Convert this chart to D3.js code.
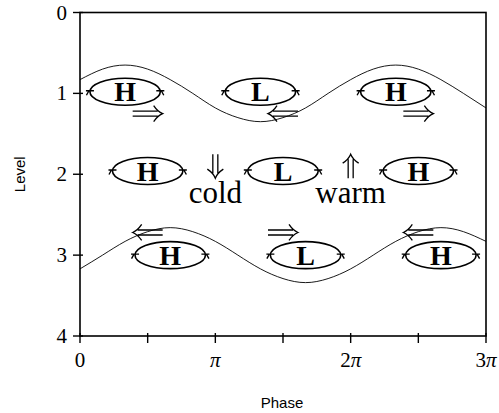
<!DOCTYPE html>
<html>
<head>
<meta charset="utf-8">
<script src="https://cdn.jsdelivr.net/npm/d3@7"></script>
<style>
  body { margin: 0; background: #fff; }
  svg { display: block; }
</style>
</head>
<body>
<div id="chart-area"></div>
<script>
const PI = Math.PI;

// phase positions (in units of pi) where the curves were read
const curve_phase = [0, 1/6, 2/6, 3/6, 4/6, 5/6, 1, 7/6, 8/6, 9/6, 10/6, 11/6, 2,
                     13/6, 14/6, 15/6, 16/6, 17/6, 3];
// upper and lower wavy lines (level values)
const upper_curve = [0.83, 0.70, 0.65, 0.70, 0.83, 1.00, 1.18, 1.30, 1.35, 1.30, 1.18, 1.00, 0.83,
                     0.70, 0.65, 0.70, 0.83, 1.00, 1.18];
const lower_curve = [3.17, 3.00, 2.83, 2.71, 2.66, 2.71, 2.83, 3.00, 3.17, 3.29, 3.34, 3.29, 3.17,
                     3.00, 2.83, 2.71, 2.66, 2.71, 2.83];

// pressure centres: phase (units of pi), level, label
const centre_phase = [1/3, 4/3, 7/3, 1/2, 3/2, 5/2, 2/3, 5/3, 8/3];
const centre_level = [0.98, 0.98, 0.98, 1.96, 1.96, 1.96, 3.0, 3.0, 3.0];
const centre_label = ["H", "L", "H", "H", "L", "H", "H", "L", "H"];

// horizontal double arrows: phase (units of pi), level, direction (+1 right, -1 left)
const wind_phase = [0.5, 1.5, 2.5, 0.5, 1.5, 2.5];
const wind_level = [1.25, 1.25, 1.25, 2.72, 2.72, 2.72];
const wind_dir = [1, -1, 1, -1, 1, -1];

// vertical double arrows + words
const vert_phase = [1, 2];
const vert_dir = [1, -1];   // +1 down, -1 up
const vert_word = ["cold", "warm"];

const x_ticks = [0, 0.5, 1, 1.5, 2, 2.5, 3];
const x_tick_labels = {0: "0", 1: "π", 2: "2π", 3: "3π"};
const y_ticks = [0, 1, 2, 3, 4];

const W = 499, H = 413;
const m_left = 80, m_right = 486, m_top = 12.5, m_bottom = 336;

const svg = d3.select("#chart-area").append("svg")
    .attr("width", W).attr("height", H);

const x = d3.scaleLinear().domain([0, 3 * PI]).range([m_left, m_right]);
const y = d3.scaleLinear().domain([0, 4]).range([m_top, m_bottom]);

const serif = "'Liberation Serif', 'DejaVu Serif', serif";
const sans = "'Liberation Sans', Arial, sans-serif";

// curves
const line = d3.line()
    .x(d => x(d[0] * PI))
    .y(d => y(d[1]))
    .curve(d3.curveNatural);

for (let c of [upper_curve, lower_curve]) {
    svg.append("path")
        .attr("d", line(curve_phase.map((p, i) => [p, c[i]])))
        .attr("fill", "none")
        .attr("stroke", "#000")
        .attr("stroke-width", 0.9);
}

// pressure centres
const rx = x(0.26 * PI) - x(0);
const ry = y(0.167) - y(0);
centre_phase.forEach((p, i) => {
    const cx = x(p * PI), cy = y(centre_level[i]);
    const g = svg.append("g");
    g.append("ellipse")
        .attr("cx", cx).attr("cy", cy)
        .attr("rx", rx).attr("ry", ry)
        .attr("fill", "none").attr("stroke", "#000").attr("stroke-width", 1.6);
    // little arrow heads at the two ends
    for (let s of [-1, 1]) {
        const ex = cx + s * rx;
        g.append("path")
            .attr("d", `M ${ex - 4} ${cy - 1} L ${ex + 4} ${cy - 1} M ${ex + s * 1} ${cy - 1} L ${ex + s * 3.5} ${cy + 3.5}`)
            .attr("fill", "none").attr("stroke", "#000").attr("stroke-width", 1.4);
    }
    g.append("text")
        .attr("x", cx).attr("y", cy + 9.5)
        .attr("text-anchor", "middle")
        .attr("font-family", serif)
        .attr("font-weight", "bold")
        .attr("font-size", "28px")
        .text(centre_label[i]);
});

// horizontal double arrows
wind_phase.forEach((p, i) => {
    const cx = x(p * PI), cy = y(wind_level[i]);
    const d = wind_dir[i];
    const half = 15;
    const tip = cx + d * half, tail = cx - d * half;
    const path = `M ${tail} ${cy - 2.5} L ${tip - d * 5} ${cy - 2.5} ` +
                 `M ${tail} ${cy + 2.5} L ${tip - d * 5} ${cy + 2.5} ` +
                 `M ${tip - d * 9} ${cy - 8} Q ${tip - d * 5} ${cy - 2} ${tip} ${cy} ` +
                 `Q ${tip - d * 5} ${cy + 2} ${tip - d * 9} ${cy + 8}`;
    svg.append("path").attr("d", path)
        .attr("fill", "none").attr("stroke", "#000").attr("stroke-width", 1.3);
});

// vertical double arrows and words
vert_phase.forEach((p, i) => {
    const cx = x(p * PI), cy = y(1.9);
    const d = vert_dir[i];
    const half = 12;
    const tip = cy + d * half, tail = cy - d * half;
    const path = `M ${cx - 2.5} ${tail} L ${cx - 2.5} ${tip - d * 5} ` +
                 `M ${cx + 2.5} ${tail} L ${cx + 2.5} ${tip - d * 5} ` +
                 `M ${cx - 8} ${tip - d * 9} Q ${cx - 2} ${tip - d * 5} ${cx} ${tip} ` +
                 `Q ${cx + 2} ${tip - d * 5} ${cx + 8} ${tip - d * 9}`;
    svg.append("path").attr("d", path)
        .attr("fill", "none").attr("stroke", "#000").attr("stroke-width", 1.3);
    svg.append("text")
        .attr("x", cx).attr("y", y(2.35))
        .attr("text-anchor", "middle")
        .attr("font-family", serif)
        .attr("font-size", "31px")
        .text(vert_word[i]);
});

// frame
svg.append("rect")
    .attr("x", m_left).attr("y", m_top)
    .attr("width", m_right - m_left).attr("height", m_bottom - m_top)
    .attr("fill", "none").attr("stroke", "#000").attr("stroke-width", 1.6);

// x ticks
for (let t of x_ticks) {
    svg.append("line")
        .attr("x1", x(t * PI)).attr("x2", x(t * PI))
        .attr("y1", m_bottom - 3).attr("y2", m_bottom + 7)
        .attr("stroke", "#000").attr("stroke-width", 1.4);
    if (x_tick_labels[t] !== undefined) {
        const lab = x_tick_labels[t];
        const txt = svg.append("text")
            .attr("x", x(t * PI)).attr("y", m_bottom + 31)
            .attr("text-anchor", "middle")
            .attr("font-family", serif)
            .attr("font-size", "21px");
        if (lab.endsWith("π")) {
            if (lab.length > 1) txt.append("tspan").text(lab.slice(0, -1));
            txt.append("tspan").attr("font-style", "italic").text("π");
        } else {
            txt.text(lab);
        }
    }
}

// y ticks
for (let t of y_ticks) {
    svg.append("line")
        .attr("x1", m_left - 7).attr("x2", m_left + 3)
        .attr("y1", y(t)).attr("y2", y(t))
        .attr("stroke", "#000").attr("stroke-width", 1.4);
    svg.append("text")
        .attr("x", m_left - 13).attr("y", y(t) + 7)
        .attr("text-anchor", "end")
        .attr("font-family", serif)
        .attr("font-size", "21px")
        .text(t);
}

// axis titles
svg.append("text")
    .attr("x", 282).attr("y", 408)
    .attr("text-anchor", "middle")
    .attr("font-family", sans)
    .attr("font-size", "15px")
    .text("Phase");

svg.append("text")
    .attr("transform", "translate(25," + y(2) + ") rotate(-90)")
    .attr("text-anchor", "middle")
    .attr("font-family", sans)
    .attr("font-size", "15px")
    .text("Level");
</script>
</body>
</html>
